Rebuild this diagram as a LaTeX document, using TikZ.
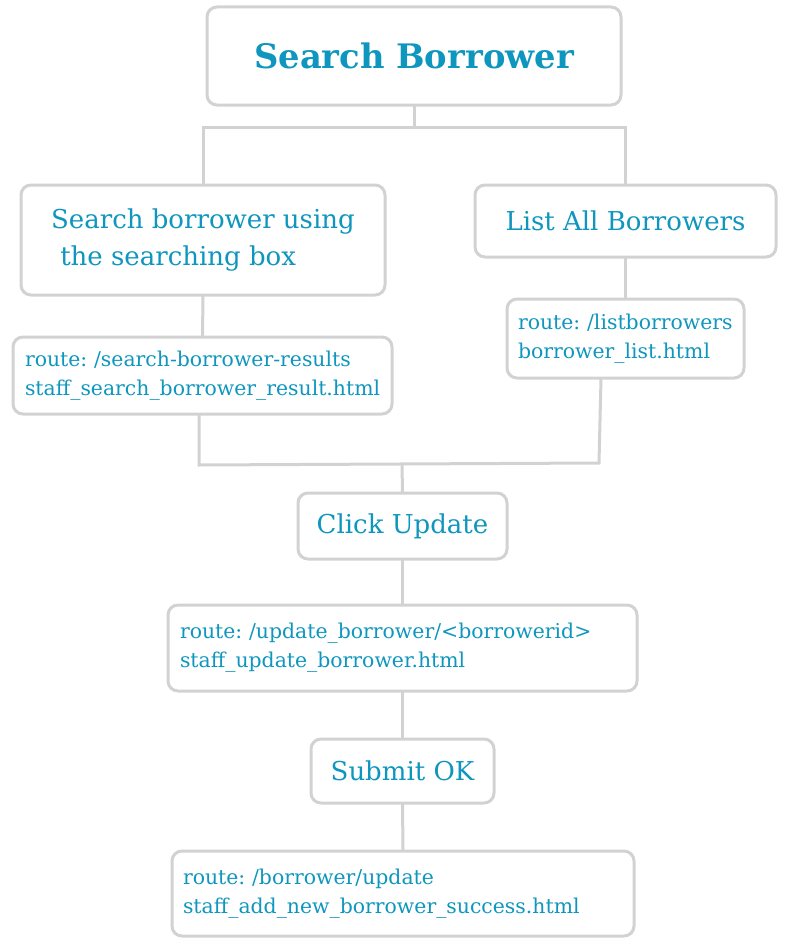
\documentclass[tikz,border=0pt]{standalone}
\usepackage{fontspec}
\setmainfont{DejaVu Serif}
\frenchspacing
\definecolor{txt}{RGB}{14,150,190}
\definecolor{edge}{RGB}{210,210,210}
\tikzset{
  box/.style={draw=edge, line width=2.25pt, rounded corners=7.5pt, text=txt, inner ysep=0pt, outer sep=0pt},
  small/.style={font=\fontsize{15.3pt}{21.75pt}\selectfont, align=left},
  body/.style={font=\fontsize{19.5pt}{27.75pt}\selectfont},
  conn/.style={draw=edge, line width=2.25pt}
}
\begin{document}
\begin{tikzpicture}[x=1pt,y=-1pt]
\useasboundingbox (0,0) rectangle (591,706.5);
\node[box, minimum width=310.5pt, minimum height=73.5pt, font=\fontsize{25.3pt}{30pt}\selectfont\bfseries] (title) at (310.5,42) {Search Borrower};
\node[box, body, minimum width=273pt, minimum height=82.5pt, align=left] (sa) at (152.25,180) {Search borrower using\\\hspace{0.35em}the searching box};
\node[box, body, minimum width=225.75pt, minimum height=54pt, align=center] (la) at (469.125,165.75) {List All Borrowers};
\node[box, small, minimum width=284.25pt, minimum height=57.75pt, inner xsep=9pt, text width=266.25pt] (sr) at (151.875,281.625) {route: /search-borrower-results\\staff\_search\_borrower\_result.html};
\node[box, small, minimum width=177.75pt, minimum height=59.25pt, inner xsep=8.25pt, text width=161.25pt] (lr) at (469.125,253.875) {route: /listborrowers\\borrower\_list.html};
\node[box, body, minimum width=156.75pt, minimum height=49.5pt, align=center] (cu) at (301.875,394.5) {Click Update};
\node[box, small, minimum width=351.75pt, minimum height=64.5pt, inner xsep=9pt, text width=333.75pt] (ur) at (301.875,486) {route: /update\_borrower/<borrowerid>\\staff\_update\_borrower.html};
\node[box, body, minimum width=137.25pt, minimum height=48pt, align=center] (so) at (301.875,578.25) {Submit OK};
\node[box, small, minimum width=346.5pt, minimum height=63.75pt, inner xsep=8.25pt, text width=330pt] (br) at (302.25,670.125) {route: /borrower/update\\staff\_add\_new\_borrower\_success.html};
% connectors
\coordinate (t1) at (310.5,95.25);
\coordinate (tl) at (152.25,95.25);
\coordinate (tr) at (468.75,95.25);
\draw[conn] (title.south) -- (t1);
\draw[conn] (sa.north) |- (tl) -- (tr) -| (la.north);
\draw[conn] (sa.south) -- (sr.north);
\draw[conn] (la.south) -- (lr.north);
\coordinate (cl0) at (149.25,310.5);
\coordinate (jl) at (149.25,348.75);
\coordinate (jr) at (449.25,347.25);
\coordinate (cr0) at (450.75,283.5);
\coordinate (jm) at (301.5,348);
\draw[conn] (cl0) -- (jl) -- (jr) -- (cr0);
\draw[conn] (jm) -- (cu.north);
\draw[conn] (cu.south) -- (ur.north);
\draw[conn] (ur.south) -- (so.north);
\draw[conn] (so.south) -- (br.north);
\end{tikzpicture}
\end{document}
